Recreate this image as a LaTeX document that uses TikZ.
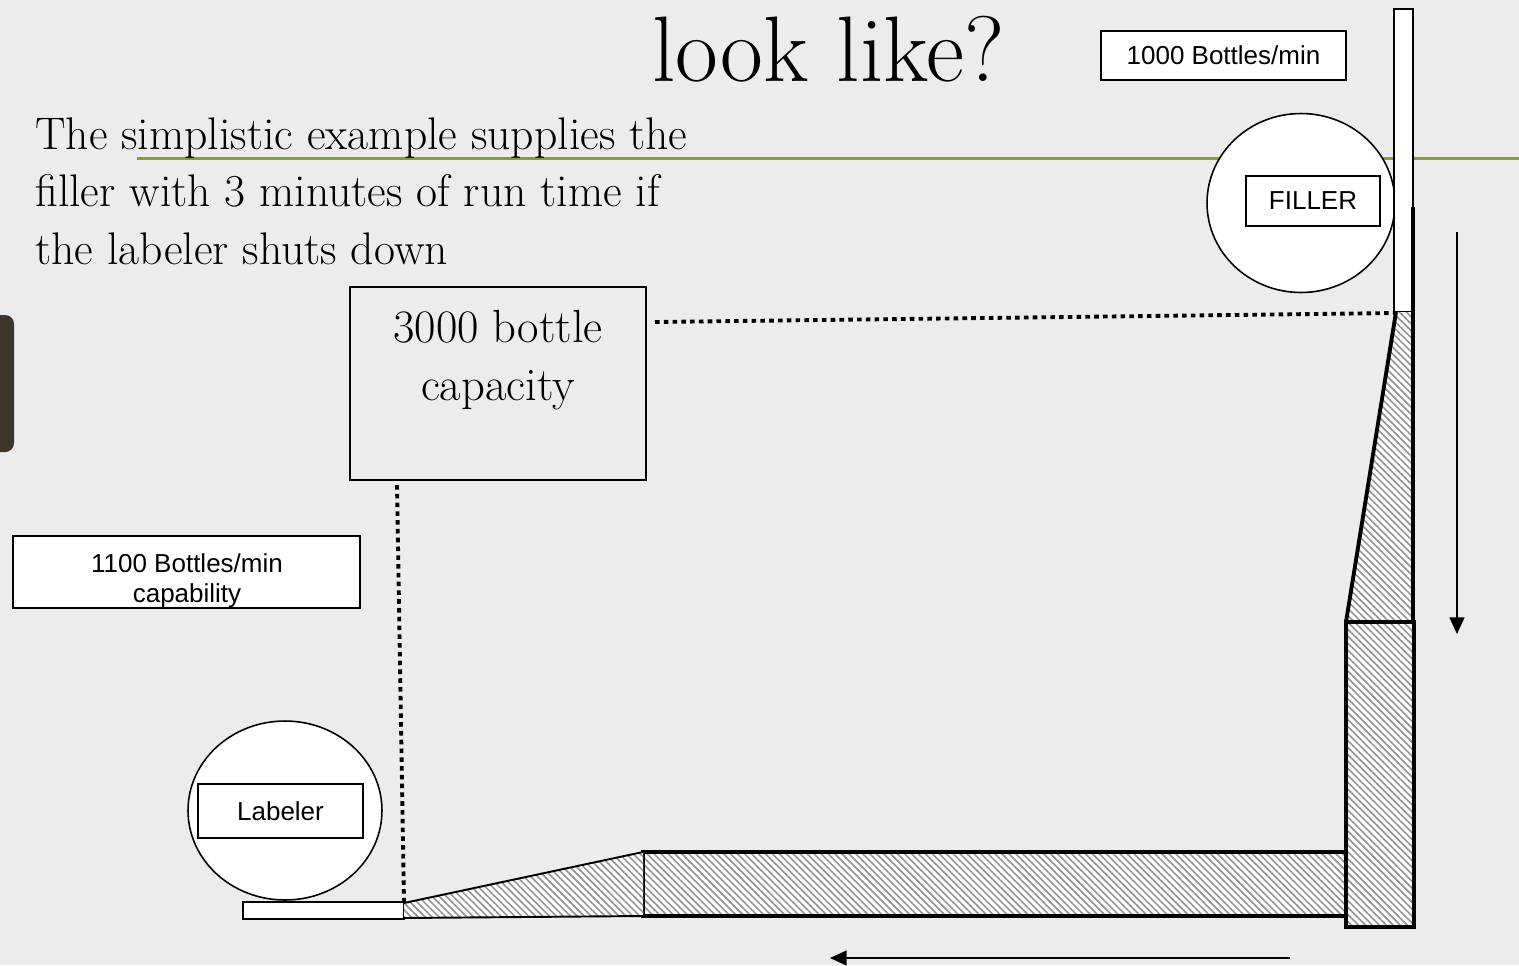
\documentclass[tikz,border=0pt]{standalone}
\usepackage{fontspec}
\newfontfamily\arialf{Liberation Sans}
\usetikzlibrary{patterns.meta,shapes.geometric,arrows.meta}
\definecolor{bg}{RGB}{236,236,236}
\definecolor{olivel}{RGB}{130,160,50}
\definecolor{barbrown}{RGB}{62,52,42}
\definecolor{hatchc}{RGB}{150,150,150}
\tikzset{
  sansbox/.style={draw=black, fill=white, line width=1.1pt, inner sep=0pt, font=\arialf\fontsize{14.8}{17}\selectfont},
  sanstext/.style={inner sep=0pt, font=\arialf\fontsize{14.8}{17}\selectfont},
  serifline/.style={inner sep=0pt, anchor=base west, font=\fontsize{26}{30}\selectfont},
  capline/.style={inner sep=0pt, anchor=base, font=\fontsize{26.5}{30}\selectfont},
  machine/.style={ellipse, draw=black, fill=white, line width=0.9pt, inner sep=0pt},
  hatched/.style={fill=white, postaction={pattern={Lines[angle=-45,distance=2.8pt,line width=0.95pt]}, pattern color=hatchc}},
  thickedge/.style={line width=2.2pt, line join=miter},
  dotline/.style={line width=2.2pt, dash pattern=on 2.6pt off 2.4pt},
  flow/.style={line width=1.1pt, -{Triangle[length=9.5pt,width=8.5pt]}}
}
\begin{document}
\begin{tikzpicture}[x=0.02cm,y=-0.02cm]
\useasboundingbox (0,0) rectangle (1519,965);
\fill[bg] (0,0) rectangle (1519,965);
% left decorative bar
\fill[barbrown, rounded corners=5pt] (-12,315) rectangle (14,452);
% green rule
\draw[olivel, line width=1.7pt] (137,158) -- (1519,158);
% title and paragraph
\node[inner sep=0pt, anchor=base west, font=\fontsize{53}{60}\selectfont] (title) at (652,81) {look like?};
\node[serifline] (p1) at (35,149) {The simplistic example supplies the};
\node[serifline] (p2) at (35,206) {filler with 3 minutes of run time if};
\node[serifline] (p3) at (35,264) {the labeler shuts down};
% rate boxes
\node[sansbox, minimum width=4.9cm, minimum height=0.98cm] (rate1000) at (1223.5,55.5) {1000 Bottles/min};
\node[sansbox, minimum width=6.94cm, minimum height=1.44cm] (rate1100) at (186.5,572) {};
\node[sanstext, anchor=base] (r1100a) at (187,572) {1100 Bottles/min};
\node[sanstext, anchor=base] (r1100b) at (187,602) {capability};
% capacity box
\node[draw=black, line width=1.1pt, minimum width=5.92cm, minimum height=3.86cm, inner sep=0pt] (capbox) at (498,383.5) {};
\node[capline] (cap1) at (498,342) {3000 bottle};
\node[capline] (cap2) at (498,400) {capacity};
% filler
\node[machine, minimum width=3.76cm, minimum height=3.58cm] (fillerc) at (1301,203) {};
\node[sansbox, minimum width=2.68cm, minimum height=1.0cm] (filler) at (1313,201) {FILLER};
\node[draw=black, fill=white, line width=1.1pt, minimum width=0.38cm, minimum height=6.06cm, inner sep=0pt] (fbar) at (1403.5,160.5) {};
% labeler
\node[machine, minimum width=3.88cm, minimum height=3.58cm] (labelc) at (285,810.5) {};
\node[sansbox, minimum width=3.3cm, minimum height=1.08cm] (labeler) at (280.5,811) {Labeler};
\node[draw=black, fill=white, line width=1.1pt, minimum width=3.22cm, minimum height=0.34cm, inner sep=0pt] (lbar) at (323.5,910.5) {};
% conveyor coordinates
\coordinate (t1a) at (1396,312);
\coordinate (t1b) at (1413,312);
\coordinate (t1c) at (1413,622);
\coordinate (t1d) at (1346,622);
\coordinate (vtl) at (1346,622);
\coordinate (vbr) at (1414,927);
\coordinate (htl) at (643,852);
\coordinate (hbr) at (1346,916);
\coordinate (t2a) at (404,903);
\coordinate (t2b) at (643,852);
\coordinate (t2c) at (643,916);
\coordinate (t2d) at (404,918);
% tapered accumulation after filler
\path[hatched] (t1a) -- (t1b) -- (t1c) -- (t1d) -- cycle;
\draw[thickedge] (t1a) -- (t1d);
\draw[thickedge] (1413,207) -- (t1c);
% vertical conveyor
\path[hatched] (vtl) rectangle (vbr);
\draw[thickedge, line width=2.5pt] (vtl) rectangle (vbr);
% horizontal conveyor
\path[hatched] (htl) rectangle (hbr);
\draw[thickedge] (htl) rectangle (hbr);
% taper to labeler
\path[hatched] (t2a) -- (t2b) -- (t2c) -- (t2d) -- cycle;
\draw[line width=1.1pt] (t2a) -- (t2b);
\draw[line width=1.1pt] (t2d) -- (t2c);
% dotted markers
\coordinate (dh1) at (655,322);
\coordinate (dh2) at (1396,313);
\draw[dotline] (dh1) -- (dh2);
\coordinate (dv1) at (397,485);
\coordinate (dv2) at (404,902);
\draw[dotline] (dv1) -- (dv2);
% flow arrows
\coordinate (a1s) at (1457,232);
\coordinate (a1e) at (1457,634);
\draw[flow] (a1s) -- (a1e);
\coordinate (a2s) at (1290,958);
\coordinate (a2e) at (830,958);
\draw[flow] (a2s) -- (a2e);
\end{tikzpicture}
\end{document}
